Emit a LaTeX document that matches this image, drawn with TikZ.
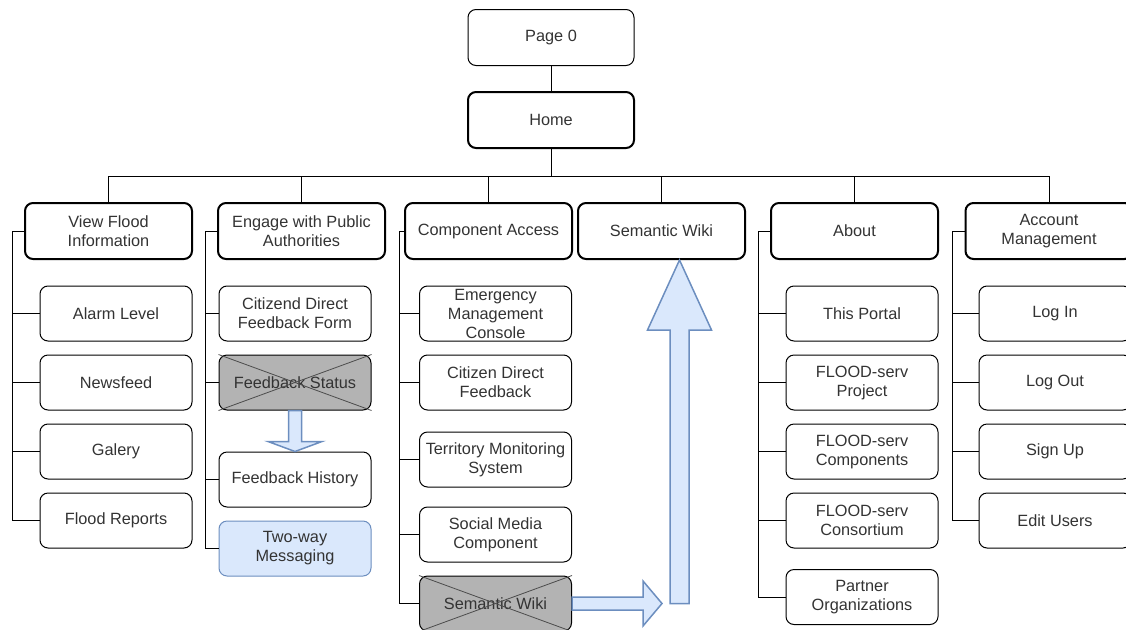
\documentclass[tikz,border=0pt]{standalone}
\usepackage{fontspec}
\setmainfont{Liberation Sans}
\usetikzlibrary{calc,positioning}

\definecolor{boxtext}{HTML}{333333}
\definecolor{arrowfill}{HTML}{DAE8FC}
\definecolor{arrowline}{HTML}{6C8EBF}
\definecolor{crossfill}{HTML}{B3B3B3}

\tikzset{
  pagebox/.style={draw, line width=1pt, rounded corners=8pt, minimum width=166pt,
    minimum height=56pt, align=center, inner sep=2pt, text=boxtext,
    font=\fontsize{16.3}{19}\selectfont},
  topbox/.style={pagebox, line width=2pt, minimum width=167pt},
  leafbox/.style={pagebox, minimum width=152pt, minimum height=55pt},
  deadbox/.style={leafbox, fill=crossfill},
  newbox/.style={leafbox, fill=arrowfill, draw=arrowline},
  tree/.style={line width=1pt},
  cross/.style={line width=0.8pt, black!70},
  blockarrow/.style={line width=1.5pt, draw=arrowline, fill=arrowfill, line join=miter}
}

\begin{document}
\begin{tikzpicture}[x=1pt,y=-1pt]
\useasboundingbox (0,0) rectangle (1126,629);
\clip (0,0) rectangle (1126,629);

% root
\node[pagebox] (page0) at (551,37.5) {Page 0};
\node[topbox, minimum width=166pt] (home) at (551,120) {Home};

% first level
\node[topbox] (view)    at (108.5,231) {View Flood\\Information};
\node[topbox] (engage)  at (301.5,231) {Engage with Public\\Authorities};
\node[topbox] (access)  at (488.5,231) {Component Access};
\node[topbox] (wiki)    at (661.5,231) {Semantic Wiki};
\node[topbox] (about)   at (854.5,231) {About};
\node[topbox] (account) at (1049,231)  {Account\\Management};

% view flood information
\node[leafbox] (alarm)    at (116,313.5) {Alarm Level};
\node[leafbox] (newsfeed) at (116,382.5) {Newsfeed};
\node[leafbox] (galery)   at (116,451.5) {Galery};
\node[leafbox] (reports)  at (116,520.5) {Flood Reports};

% engage with public authorities
\node[leafbox] (feedform)  at (295,313.5) {Citizend Direct\\Feedback Form};
\node[deadbox] (fbstatus)  at (295,382.5) {Feedback Status};
\node[leafbox] (fbhistory) at (295,479.5) {Feedback History};
\node[newbox]  (twoway)    at (295,548.5) {Two-way\\Messaging};

% component access
\node[leafbox] (emc)     at (495.5,313.5) {Emergency\\Management\\Console};
\node[leafbox] (cdf)     at (495.5,382.5) {Citizen Direct\\Feedback};
\node[leafbox] (tms)     at (495.5,459.5) {Territory Monitoring\\System};
\node[leafbox] (social)  at (495.5,534.5) {Social Media\\Component};
\node[deadbox] (oldwiki) at (495.5,603.5) {Semantic Wiki};

% about
\node[leafbox] (portal)     at (862,313.5) {This Portal};
\node[leafbox] (project)    at (862,382.5) {FLOOD-serv\\Project};
\node[leafbox] (components) at (862,451.5) {FLOOD-serv\\Components};
\node[leafbox] (consortium) at (862,520.5) {FLOOD-serv\\Consortium};
\node[leafbox] (partners)   at (862,597)   {Partner\\Organizations};

% account management
\node[leafbox] (login)     at (1055,313.5) {Log In};
\node[leafbox] (logout)    at (1055,382.5) {Log Out};
\node[leafbox] (signup)    at (1055,451.5) {Sign Up};
\node[leafbox] (editusers) at (1055,520.5) {Edit Users};

% crossed out pages
\foreach \n in {fbstatus,oldwiki}
{
  \draw[cross] (\n.north west) -- (\n.south east);
  \draw[cross] (\n.south west) -- (\n.north east);
}

% tree lines
\coordinate (bus) at (0,176);
\draw[tree] (page0) -- (home);
\foreach \t in {view,engage,access,wiki,about,account}
  \draw[tree] (home.south) -- (home.south |- bus) -| (\t.north);

\foreach \top/\spine/\kids in {view/12/{alarm,newsfeed,galery,reports},
    engage/205/{feedform,fbstatus,fbhistory,twoway},
    access/399/{emc,cdf,tms,social,oldwiki},
    about/758/{portal,project,components,consortium,partners},
    account/952/{login,logout,signup,editusers}}
  \foreach \kid in \kids
    \draw[tree] (\top.west) -| (\spine,0 |- \kid.west) -- (\kid.west);

% moved pages
\draw[blockarrow] ($(fbstatus.south)+(-6.5,0)$) -- ($(fbhistory.north)+(-6.5,-10)$)
  -- ++(-20.5,0) -- (fbhistory.north) -- ($(fbhistory.north)+(27,-10)$)
  -- ++(-20.5,0) -- ($(fbstatus.south)+(6.5,0)$) -- cycle;

\coordinate (turn) at (679.5,603.5);
\draw[blockarrow] ($(oldwiki.east)+(0,-6.5)$) -- ($(turn)+(-36.5,-6.5)$)
  -- ++(0,-16) -- ($(turn)+(-17.5,0)$) -- ($(turn)+(-36.5,22.5)$)
  -- ++(0,-16) -- ($(oldwiki.east)+(0,6.5)$) -- cycle;
\draw[blockarrow] ($(turn)+(-9.5,0)$) -- ($(turn |- wiki.south)+(-9.5,70)$)
  -- ++(-22.5,0) -- (turn |- wiki.south) -- ($(turn |- wiki.south)+(32,70)$)
  -- ++(-22.5,0) -- ($(turn)+(9.5,0)$) -- cycle;

\end{tikzpicture}
\end{document}
